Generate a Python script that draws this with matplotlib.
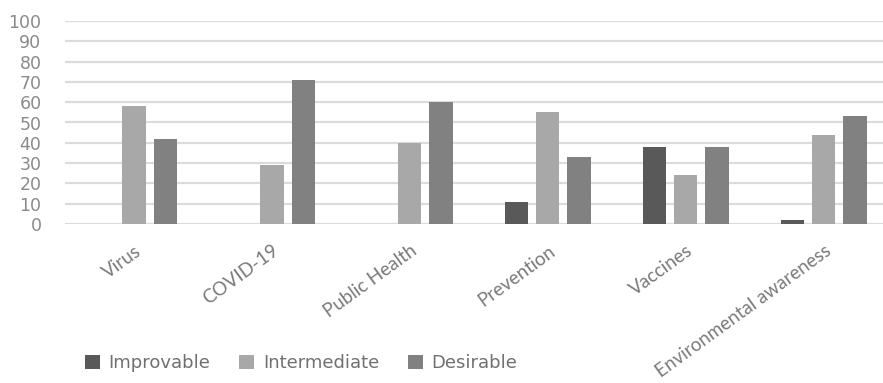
import matplotlib
matplotlib.use("Agg")
import matplotlib.pyplot as plt
import numpy as np

categories = ["Virus", "COVID-19", "Public Health", "Prevention", "Vaccines",
              "Environmental awareness"]
improvable = [0, 0, 0, 11, 38, 2]
intermediate = [58, 29, 40, 55, 24, 44]
desirable = [42, 71, 60, 33, 38, 53]
y_ticks = [0, 10, 20, 30, 40, 50, 60, 70, 80, 90, 100]

series = [("Improvable", improvable, "#595959"),
          ("Intermediate", intermediate, "#a8a8a8"),
          ("Desirable", desirable, "#818181")]

fig = plt.figure(figsize=(8.83, 3.83), dpi=100)
ax = fig.add_axes([65 / 883, 159 / 383, 818 / 883, 203 / 383])

x = np.arange(len(categories))
step = 0.225
width = 0.167
for i, (name, vals, color) in enumerate(series):
    ax.bar(x + (i - 1) * step, vals, width=width, color=color, label=name,
           zorder=3)

ax.set_ylim(0, 100)
ax.set_xlim(-0.5, 5.428)
ax.set_yticks(y_ticks)
ax.set_yticklabels([str(v) for v in y_ticks], fontsize=12.5, color="#8a8a8a",
                   family="DejaVu Sans")
ax.yaxis.grid(True, color="#dcdcdc", linewidth=1.6, zorder=0)
ax.tick_params(axis="y", length=0, pad=17)

ax.set_xticks(x)
ax.set_xticklabels(categories, rotation=36, ha="right",
                   rotation_mode="anchor", fontsize=13.5, color="#7a7a7a",
                   family="Lato")
ax.tick_params(axis="x", length=0, pad=13)
for s in ax.spines.values():
    s.set_visible(False)

handles, labels = ax.get_legend_handles_labels()
fig.legend(handles, labels, loc="center left", bbox_to_anchor=(69 / 883, 1 - 363 / 383),
           ncol=3, frameon=False, labelcolor="#707070",
           handlelength=0.8, handleheight=0.8, handletextpad=0.5,
           columnspacing=1.6, prop={"family": "DejaVu Sans", "size": 13})

fig.savefig("out.png", dpi=100, facecolor="white")
